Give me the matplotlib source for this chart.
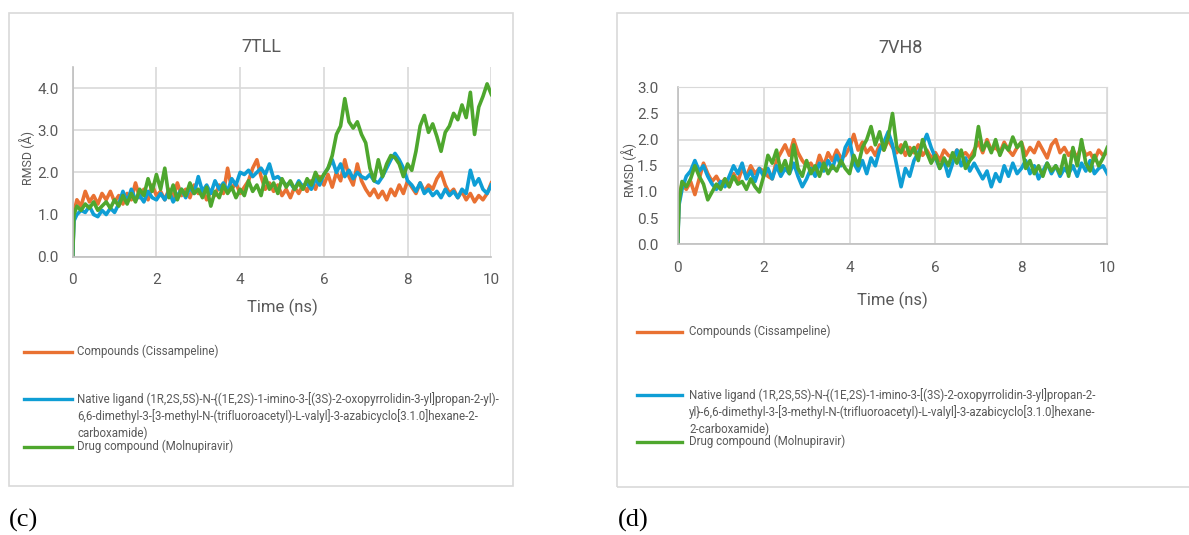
import numpy as np
import matplotlib
matplotlib.use("Agg")
import matplotlib.pyplot as plt
from matplotlib.patches import Rectangle
from matplotlib.lines import Line2D

# ---------------- data ----------------
time = np.concatenate([[0.0, 0.03], np.round(np.arange(0.1, 10.0001, 0.1), 2)])

# 7TLL
tll_compound = [0.0, 1.05,
    1.35, 1.2, 1.55, 1.3, 1.45, 1.25, 1.5, 1.35, 1.55, 1.3,
    1.45, 1.25, 1.5, 1.35, 1.75, 1.4, 1.6, 1.35, 1.7, 1.45,
    1.55, 1.35, 1.6, 1.4, 1.75, 1.45, 1.6, 1.4, 1.7, 1.5,
    1.6, 1.35, 1.55, 1.45, 1.7, 1.5, 2.1, 1.6, 1.75, 1.5,
    1.65, 1.8, 2.1, 2.3, 1.9, 1.6, 1.75, 1.55, 1.7, 1.45,
    1.6, 1.4, 1.65, 1.5, 1.7, 1.55, 1.8, 1.6, 1.9, 1.7,
    1.95, 1.65, 2.0, 1.8, 2.3, 1.9, 1.7, 2.2, 1.8, 1.6,
    1.45, 1.6, 1.4, 1.55, 1.35, 1.6, 1.45, 1.7, 1.5, 1.8,
    1.65, 1.5, 1.75, 1.55, 1.7, 1.6, 1.85, 2.0, 1.7, 1.5,
    1.6, 1.4, 1.55, 1.35, 1.5, 1.3, 1.45, 1.35, 1.5, 1.75]
tll_native = [0.0, 0.85,
    1.0, 1.1, 1.05, 1.2, 1.0, 0.95, 1.1, 1.0, 1.15, 1.05,
    1.25, 1.55, 1.3, 1.6, 1.35, 1.45, 1.3, 1.55, 1.4, 1.35,
    1.5, 1.35, 1.55, 1.3, 1.45, 1.6, 1.4, 1.65, 1.5, 1.9,
    1.55, 1.7, 1.5, 1.8, 1.6, 1.75, 1.55, 1.85, 1.7, 2.0,
    1.95, 2.05, 1.9, 2.0, 2.1, 1.95, 2.2, 1.85, 1.9, 1.8,
    1.7, 1.75, 1.6, 1.8, 1.65, 1.75, 1.6, 1.85, 1.7, 1.95,
    2.1, 2.3, 2.0, 2.2, 1.9, 2.05, 1.85, 2.0, 1.9, 1.85,
    1.95, 1.8, 1.75, 1.9, 2.1, 2.3, 2.45, 2.3, 2.1, 1.8,
    1.7, 1.55, 1.75, 1.5, 1.6, 1.45, 1.55, 1.4, 1.6, 1.45,
    1.55, 1.4, 1.6, 1.5, 2.05, 1.7, 1.85, 1.6, 1.5, 1.7]
tll_drug = [0.0, 1.0,
    1.2, 1.1, 1.25, 1.15, 1.3, 1.1, 1.2, 1.3, 1.15, 1.35,
    1.2, 1.45, 1.25, 1.5, 1.3, 1.6, 1.45, 1.85, 1.55, 1.95,
    1.6, 2.1, 1.4, 1.7, 1.35, 1.6, 1.45, 1.75, 1.5, 1.6,
    1.4, 1.65, 1.2, 1.55, 1.4, 1.7, 1.5, 1.65, 1.4, 1.6,
    1.45, 1.8, 1.55, 1.7, 1.45, 1.9, 1.6, 1.75, 1.5, 1.85,
    1.65, 1.8, 1.6, 1.75, 1.6, 1.85, 1.7, 2.0, 1.8, 1.95,
    2.1, 2.4, 2.9, 3.1, 3.75, 3.2, 3.05, 3.2, 2.9, 2.7,
    2.1, 1.8, 2.3, 1.9, 2.2, 2.4, 2.35, 2.2, 1.9, 2.2,
    2.05, 2.5, 3.1, 3.35, 2.95, 3.15, 2.85, 2.5, 2.95, 3.1,
    3.4, 3.25, 3.6, 3.3, 3.9, 2.9, 3.55, 3.8, 4.1, 3.85]

# 7VH8
vh8_compound = [0.0, 0.9,
    1.15, 1.05, 1.2, 0.95, 1.25, 1.55, 1.35, 1.2, 1.3, 1.15,
    1.25, 1.1, 1.35, 1.2, 1.45, 1.3, 1.5, 1.35, 1.45, 1.4,
    1.3, 1.25, 1.6, 1.75, 1.9, 1.7, 2.0, 1.75, 1.6, 1.5,
    1.55, 1.4, 1.7, 1.5, 1.75, 1.6, 1.8, 1.65, 1.7, 1.85,
    2.1, 1.8, 1.95, 1.75, 1.85, 1.7, 1.9, 1.8, 2.0, 1.85,
    1.75, 1.9, 1.7, 1.85, 1.75, 1.9, 1.7, 1.8, 1.65, 1.75,
    1.6, 1.8, 1.7, 1.65, 1.8, 1.7, 1.75, 1.65, 1.8, 1.95,
    1.75, 2.0, 1.8, 1.85, 1.75, 1.95, 1.8, 1.7, 1.85, 1.95,
    1.7, 1.85, 1.75, 1.95, 1.8, 1.65, 1.9, 2.0, 1.75, 1.85,
    1.7, 1.8, 1.65, 1.9, 1.7, 1.75, 1.6, 1.8, 1.7, 1.75]
vh8_native = [0.0, 0.75,
    1.05, 1.3, 1.4, 1.6, 1.4, 1.5, 1.3, 1.15, 1.05, 1.2,
    1.1, 1.3, 1.5, 1.35, 1.55, 1.25, 1.4, 1.2, 1.45, 1.3,
    1.45, 1.25, 1.5, 1.3, 1.45, 1.35, 1.55, 1.3, 1.1, 1.25,
    1.45, 1.3, 1.55, 1.4, 1.6, 1.45, 1.7, 1.5, 1.85, 2.0,
    1.55, 1.4, 1.6, 1.35, 1.65, 1.5, 1.8, 1.95, 2.15, 1.9,
    1.5, 1.1, 1.45, 1.3, 1.6, 1.75, 1.9, 2.1, 1.85, 1.65,
    1.45, 1.6, 1.3, 1.55, 1.8, 1.5, 1.65, 1.4, 1.55, 1.4,
    1.25, 1.4, 1.1, 1.35, 1.2, 1.5, 1.3, 1.55, 1.35, 1.45,
    1.6, 1.35, 1.5, 1.25, 1.4, 1.55, 1.35, 1.5, 1.3, 1.45,
    1.35, 1.5, 1.3, 1.55, 1.4, 1.6, 1.35, 1.45, 1.5, 1.35]
vh8_drug = [0.0, 0.8,
    1.2, 1.1, 1.25, 1.5, 1.3, 1.15, 0.85, 1.0, 1.15, 1.05,
    1.25, 1.1, 1.3, 1.15, 1.2, 1.05, 1.25, 1.1, 1.0, 1.3,
    1.7, 1.55, 1.8, 1.4, 1.6, 1.35, 1.9, 1.45, 1.3, 1.6,
    1.35, 1.5, 1.3, 1.55, 1.35, 1.5, 1.4, 1.6, 1.45, 1.35,
    1.7, 1.5, 1.85, 2.0, 2.25, 1.9, 2.15, 1.8, 2.05, 2.5,
    1.85, 1.75, 1.95, 1.7, 1.85, 1.6, 2.0, 1.75, 1.55, 1.7,
    1.45, 1.65, 1.5, 1.75, 1.55, 1.8, 1.45, 1.6, 1.7, 2.25,
    1.8, 1.95, 1.75, 2.0, 1.7, 1.9, 1.8, 2.05, 1.85, 1.95,
    1.45, 1.6, 1.35, 1.5, 1.3, 1.55, 1.4, 1.5, 1.35, 1.7,
    1.3, 1.85, 1.5, 2.0, 1.55, 1.4, 1.7, 1.5, 1.65, 1.85]

legend_c = [
    "Compounds (Cissampeline)",
    "Native ligand (1R,2S,5S)-N-{(1E,2S)-1-imino-3-[(3S)-2-oxopyrrolidin-3-yl]propan-2-yl)-\n"
    "6,6-dimethyl-3-[3-methyl-N-(trifluoroacetyl)-L-valyl]-3-azabicyclo[3.1.0]hexane-2-\n"
    "carboxamide)",
    "Drug compound (Molnupiravir)",
]
legend_d = [
    "Compounds (Cissampeline)",
    "Native ligand (1R,2S,5S)-N-{(1E,2S)-1-imino-3-[(3S)-2-oxopyrrolidin-3-yl]propan-2-\n"
    "yl}-6,6-dimethyl-3-[3-methyl-N-(trifluoroacetyl)-L-valyl]-3-azabicyclo[3.1.0]hexane-\n"
    "2-carboxamide)",
    "Drug compound (Molnupiravir)",
]
colors = ["#E97132", "#0F9ED5", "#4EA72E"]

# ---------------- figure ----------------
W, H = 1189, 535
fig = plt.figure(figsize=(W / 100, H / 100), dpi=100)
fig.patch.set_facecolor("white")
FONT = "Roboto"
TXT = "#595959"


def fx(px):
    return px / W


def fy(py):
    return 1 - py / H


def box(x0, y0, x1, y1):
    fig.add_artist(Rectangle((fx(x0), fy(y1)), fx(x1) - fx(x0), fy(y0) - fy(y1),
                             transform=fig.transFigure, fill=False,
                             edgecolor="#d9d9d9", linewidth=1.2))


def panel(ax_rect, series, ymax, yticks, ylab_fmt):
    ax = fig.add_axes(ax_rect)
    for s, c in zip(series, colors):
        ax.plot(time, s, color=c, linewidth=2.6, solid_joinstyle="round")
    ax.set_xlim(0, 10)
    ax.set_ylim(0, ymax)
    ax.set_xticks(range(0, 11, 2))
    ax.set_yticks(yticks)
    ax.set_yticklabels([ylab_fmt.format(v) for v in yticks])
    ax.grid(True, color="#d9d9d9", linewidth=1.2)
    ax.set_axisbelow(True)
    for sp in ["top", "right"]:
        ax.spines[sp].set_visible(False)
    for sp in ["left", "bottom"]:
        ax.spines[sp].set_color("#bfbfbf")
        ax.spines[sp].set_linewidth(1.2)
    ax.tick_params(length=0, labelsize=11, labelcolor=TXT)
    for lab in ax.get_xticklabels() + ax.get_yticklabels():
        lab.set_fontfamily(FONT)
    return ax


# Panel (c) 7TLL
box(9, 13, 513, 486)
ax1 = panel([fx(72.7), fy(256.7), fx(491.3) - fx(72.7), fy(67.0) - fy(256.7)],
            [tll_compound, tll_native, tll_drug], 4.5, [0, 1, 2, 3, 4], "{:.1f}")
ax1.tick_params(axis="x", pad=12)
ax1.tick_params(axis="y", pad=10)
fig.text(fx(261), fy(47), "7TLL", ha="center", va="center", fontsize=13,
         color=TXT, family=FONT)
fig.text(fx(282), fy(307), "Time (ns)", ha="center", va="center", fontsize=12,
         color=TXT, family=FONT)
fig.text(fx(27), fy(158), "RMSD (Å)", ha="center", va="center", fontsize=9,
         rotation=90, color=TXT, family=FONT)

# Panel (d) 7VH8
box(617, 13, 1200, 487)
ax2 = panel([fx(677.7), fy(244.3), fx(1107.3) - fx(677.7), fy(87.3) - fy(244.3)],
            [vh8_compound, vh8_native, vh8_drug], 3.0,
            [0, 0.5, 1, 1.5, 2, 2.5, 3], "{:.1f}")
ax2.tick_params(axis="x", pad=12)
ax2.tick_params(axis="y", pad=14)
ax2.spines["top"].set_visible(True)
ax2.spines["right"].set_visible(True)
ax2.spines["top"].set_color("#d9d9d9")
ax2.spines["right"].set_color("#d9d9d9")
fig.text(fx(901), fy(48), "7VH8", ha="center", va="center", fontsize=13,
         color=TXT, family=FONT)
fig.text(fx(892), fy(300), "Time (ns)", ha="center", va="center", fontsize=12,
         color=TXT, family=FONT)
fig.text(fx(629), fy(170), "RMSD (Å)", ha="center", va="center", fontsize=9,
         rotation=90, color=TXT, family=FONT)


def legend(entries, x0, x1, xt, ys):
    for txt, c, y in zip(entries, colors, ys):
        fig.add_artist(Line2D([fx(x0), fx(x1)], [fy(y), fy(y)], color=c,
                              linewidth=2.4, transform=fig.transFigure))
        fig.text(fx(xt), fy(y - 7), txt, ha="left", va="top", fontsize=8.3,
                 color=TXT, family=FONT, linespacing=1.3)


legend(legend_c, 24, 72, 77, [352, 399, 446.5])
legend(legend_d, 637, 682, 689, [331.7, 395, 441.7])

fig.text(fx(9), fy(520), "(c)", ha="left", va="center", fontsize=19,
         family="Liberation Serif", color="black")
fig.text(fx(618), fy(520), "(d)", ha="left", va="center", fontsize=19,
         family="Liberation Serif", color="black")

fig.savefig("out.png", dpi=100, facecolor="white")
